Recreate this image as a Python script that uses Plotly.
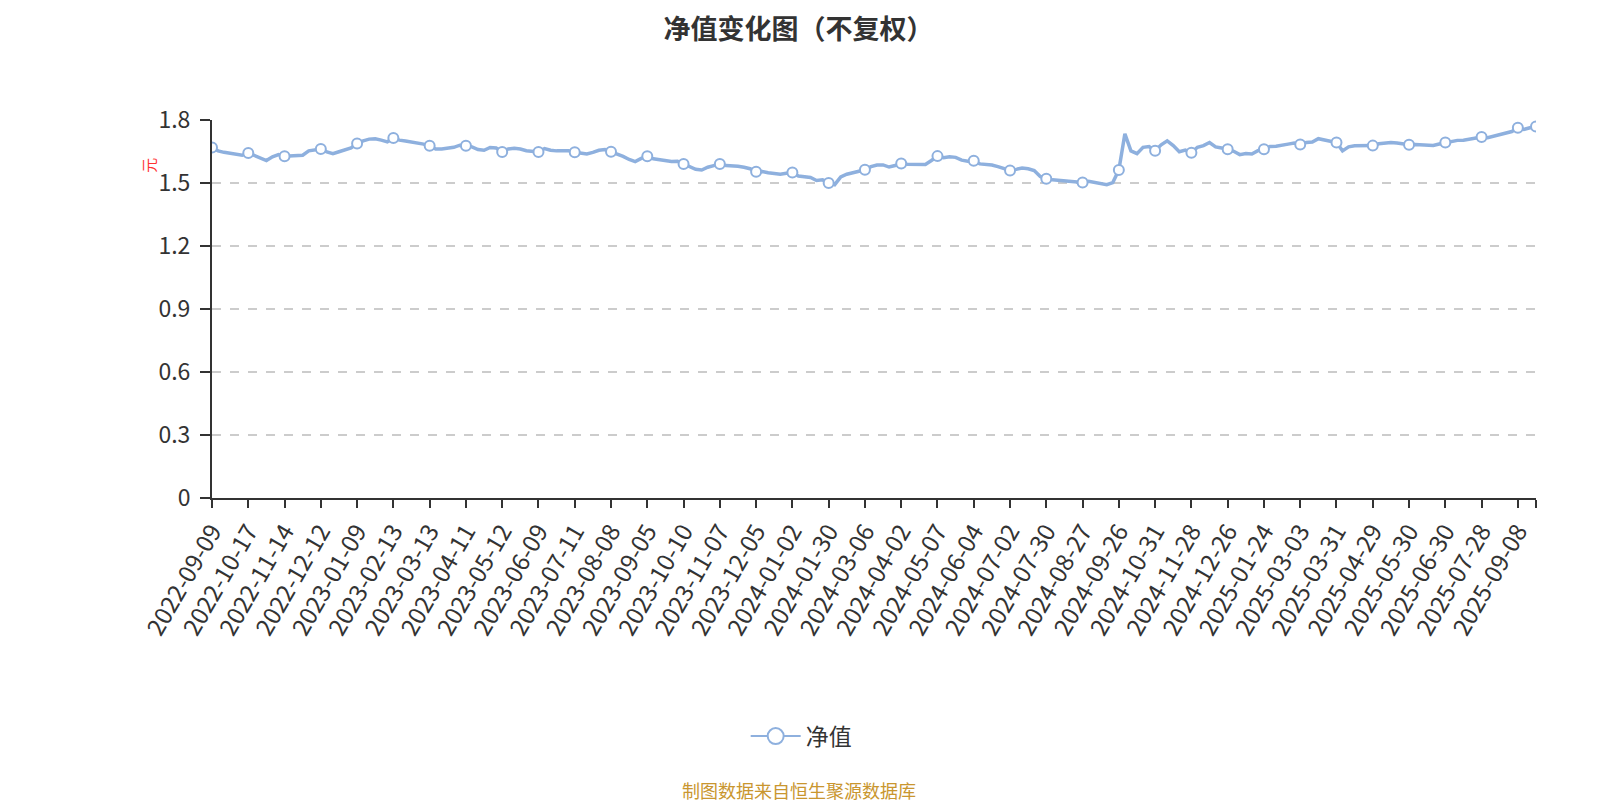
import plotly.graph_objects as go

# 单位净值（元），按日期读取；每行约一个横轴标签区间
NAV_2022 = [
    ("2022-09-09", 1.669), ("2022-09-15", 1.653), ("2022-09-21", 1.646), ("2022-09-27", 1.641),
    ("2022-10-10", 1.635), ("2022-10-13", 1.632),
    ("2022-10-17", 1.643), ("2022-10-21", 1.632), ("2022-10-26", 1.622), ("2022-10-31", 1.607),
    ("2022-11-03", 1.625), ("2022-11-09", 1.635),
    ("2022-11-14", 1.627), ("2022-11-17", 1.628), ("2022-11-22", 1.627), ("2022-11-25", 1.632),
    ("2022-11-30", 1.653), ("2022-12-06", 1.659),
    ("2022-12-12", 1.662), ("2022-12-15", 1.648), ("2022-12-20", 1.640), ("2022-12-23", 1.649),
    ("2022-12-28", 1.659),
]

NAV_2023 = [
    ("2023-01-04", 1.667),
    ("2023-01-09", 1.688), ("2023-01-12", 1.701), ("2023-01-17", 1.709), ("2023-01-31", 1.711),
    ("2023-02-03", 1.704), ("2023-02-08", 1.696),
    ("2023-02-13", 1.714), ("2023-02-16", 1.704), ("2023-02-21", 1.700), ("2023-02-24", 1.695),
    ("2023-03-01", 1.693), ("2023-03-07", 1.685),
    ("2023-03-13", 1.677), ("2023-03-16", 1.662), ("2023-03-21", 1.662), ("2023-03-24", 1.665),
    ("2023-03-29", 1.670), ("2023-04-04", 1.680),
    ("2023-04-11", 1.677), ("2023-04-14", 1.672), ("2023-04-19", 1.659), ("2023-04-24", 1.656),
    ("2023-04-27", 1.669), ("2023-05-08", 1.667),
    ("2023-05-12", 1.648), ("2023-05-17", 1.662), ("2023-05-22", 1.665), ("2023-05-25", 1.662),
    ("2023-05-31", 1.654), ("2023-06-05", 1.649),
    ("2023-06-09", 1.648), ("2023-06-14", 1.664), ("2023-06-19", 1.656), ("2023-06-27", 1.653),
    ("2023-06-30", 1.654), ("2023-07-06", 1.654),
    ("2023-07-11", 1.646), ("2023-07-14", 1.641), ("2023-07-19", 1.638), ("2023-07-24", 1.646),
    ("2023-07-27", 1.656), ("2023-08-02", 1.659),
    ("2023-08-08", 1.649), ("2023-08-11", 1.638), ("2023-08-16", 1.627), ("2023-08-21", 1.612),
    ("2023-08-24", 1.602), ("2023-08-30", 1.617),
    ("2023-09-05", 1.627), ("2023-09-08", 1.615), ("2023-09-13", 1.610), ("2023-09-18", 1.607),
    ("2023-09-21", 1.602), ("2023-09-27", 1.604),
    ("2023-10-10", 1.591), ("2023-10-13", 1.581), ("2023-10-18", 1.565), ("2023-10-23", 1.562),
    ("2023-10-26", 1.575), ("2023-11-01", 1.583),
    ("2023-11-07", 1.591), ("2023-11-10", 1.583), ("2023-11-15", 1.583), ("2023-11-20", 1.580),
    ("2023-11-23", 1.575), ("2023-11-29", 1.568),
    ("2023-12-05", 1.554), ("2023-12-08", 1.555), ("2023-12-13", 1.549), ("2023-12-18", 1.544),
    ("2023-12-21", 1.542), ("2023-12-27", 1.546),
]

NAV_2024 = [
    ("2024-01-02", 1.550), ("2024-01-05", 1.533), ("2024-01-10", 1.529), ("2024-01-15", 1.526),
    ("2024-01-18", 1.512), ("2024-01-24", 1.515),
    ("2024-01-30", 1.500), ("2024-02-02", 1.492), ("2024-02-07", 1.529), ("2024-02-21", 1.542),
    ("2024-02-26", 1.549), ("2024-02-29", 1.555),
    ("2024-03-06", 1.563), ("2024-03-11", 1.578), ("2024-03-14", 1.586), ("2024-03-19", 1.586),
    ("2024-03-22", 1.576), ("2024-03-27", 1.583),
    ("2024-04-02", 1.593), ("2024-04-08", 1.589), ("2024-04-11", 1.588), ("2024-04-16", 1.589),
    ("2024-04-19", 1.588), ("2024-04-25", 1.607),
    ("2024-05-07", 1.628), ("2024-05-10", 1.620), ("2024-05-15", 1.625), ("2024-05-20", 1.622),
    ("2024-05-23", 1.609), ("2024-05-29", 1.604),
    ("2024-06-04", 1.606), ("2024-06-07", 1.591), ("2024-06-13", 1.589), ("2024-06-18", 1.586),
    ("2024-06-21", 1.578), ("2024-06-26", 1.567),
    ("2024-07-02", 1.560), ("2024-07-05", 1.565), ("2024-07-10", 1.571), ("2024-07-15", 1.568),
    ("2024-07-18", 1.559), ("2024-07-24", 1.531),
    ("2024-07-30", 1.520), ("2024-08-02", 1.515), ("2024-08-07", 1.513), ("2024-08-12", 1.512),
    ("2024-08-15", 1.510), ("2024-08-21", 1.507),
    ("2024-08-27", 1.502), ("2024-08-30", 1.508), ("2024-09-04", 1.502), ("2024-09-09", 1.494),
    ("2024-09-12", 1.492), ("2024-09-19", 1.502),
    ("2024-09-26", 1.562), ("2024-10-08", 1.734), ("2024-10-11", 1.653), ("2024-10-16", 1.640),
    ("2024-10-21", 1.670), ("2024-10-25", 1.674),
    ("2024-10-31", 1.654), ("2024-11-05", 1.682), ("2024-11-08", 1.701), ("2024-11-13", 1.678),
    ("2024-11-18", 1.649), ("2024-11-22", 1.657),
    ("2024-11-28", 1.644), ("2024-12-03", 1.670), ("2024-12-06", 1.678), ("2024-12-11", 1.693),
    ("2024-12-16", 1.672), ("2024-12-20", 1.667),
    ("2024-12-26", 1.661), ("2024-12-31", 1.651),
]

NAV_2025 = [
    ("2025-01-06", 1.635), ("2025-01-09", 1.640), ("2025-01-14", 1.638), ("2025-01-17", 1.654),
    ("2025-01-24", 1.661), ("2025-02-05", 1.674), ("2025-02-10", 1.675), ("2025-02-14", 1.678),
    ("2025-02-19", 1.685), ("2025-02-25", 1.690),
    ("2025-03-03", 1.683), ("2025-03-06", 1.693), ("2025-03-11", 1.695), ("2025-03-14", 1.711),
    ("2025-03-19", 1.706), ("2025-03-25", 1.700),
    ("2025-03-31", 1.693), ("2025-04-03", 1.653), ("2025-04-09", 1.672), ("2025-04-14", 1.677),
    ("2025-04-17", 1.678), ("2025-04-23", 1.680),
    ("2025-04-29", 1.678), ("2025-05-07", 1.687), ("2025-05-12", 1.691), ("2025-05-15", 1.693),
    ("2025-05-20", 1.690), ("2025-05-26", 1.685),
    ("2025-05-30", 1.682), ("2025-06-05", 1.683), ("2025-06-10", 1.682), ("2025-06-13", 1.682),
    ("2025-06-18", 1.679), ("2025-06-24", 1.686),
    ("2025-06-30", 1.693), ("2025-07-03", 1.700), ("2025-07-08", 1.703), ("2025-07-11", 1.704),
    ("2025-07-16", 1.709), ("2025-07-22", 1.716),
    ("2025-07-28", 1.719), ("2025-08-04", 1.716), ("2025-08-11", 1.724), ("2025-08-18", 1.729),
    ("2025-08-25", 1.737), ("2025-09-01", 1.745),
    ("2025-09-08", 1.763), ("2025-09-11", 1.755), ("2025-09-16", 1.763), ("2025-09-19", 1.769),
]

# 横轴标签日期
TICK_DATES = [
    "2022-09-09", "2022-10-17", "2022-11-14", "2022-12-12", "2023-01-09", "2023-02-13",
    "2023-03-13", "2023-04-11", "2023-05-12", "2023-06-09", "2023-07-11", "2023-08-08",
    "2023-09-05", "2023-10-10", "2023-11-07", "2023-12-05", "2024-01-02", "2024-01-30",
    "2024-03-06", "2024-04-02", "2024-05-07", "2024-06-04", "2024-07-02", "2024-07-30",
    "2024-08-27", "2024-09-26", "2024-10-31", "2024-11-28", "2024-12-26", "2025-01-24",
    "2025-03-03", "2025-03-31", "2025-04-29", "2025-05-30", "2025-06-30", "2025-07-28",
    "2025-09-08",
]

Y_TICKS = [0, 0.3, 0.6, 0.9, 1.2, 1.5, 1.8]

LINE_COLOR = "#8EB0DE"
TEXT_COLOR = "#333333"
FONT = "Noto Sans CJK SC, Noto Sans, sans-serif"

pairs = NAV_2022 + NAV_2023 + NAV_2024 + NAV_2025
dates = [d for d, _ in pairs]
navs = [v for _, v in pairs]
nav_by_date = dict(pairs)

# 标签处与最后一天显示空心圆点
marker_dates = TICK_DATES + [dates[-1]]
marker_navs = [nav_by_date[d] for d in marker_dates]

fig = go.Figure()

fig.add_trace(
    go.Scatter(
        x=dates,
        y=navs,
        mode="lines",
        line={"color": LINE_COLOR, "width": 3.5},
        name="净值",
        showlegend=False,
        hovertemplate="%{x}<br>净值: %{y:.4f}<extra></extra>",
    )
)

fig.add_trace(
    go.Scatter(
        x=marker_dates,
        y=marker_navs,
        mode="markers",
        marker={
            "symbol": "circle",
            "size": 10,
            "color": "white",
            "line": {"color": LINE_COLOR, "width": 2},
        },
        name="净值",
        showlegend=False,
        hoverinfo="skip",
    )
)

# 图例用的空 trace
fig.add_trace(
    go.Scatter(
        x=[None],
        y=[None],
        mode="lines+markers",
        line={"color": LINE_COLOR, "width": 2},
        marker={"size": 22, "color": "white", "line": {"color": LINE_COLOR, "width": 2}},
        name="净值",
    )
)

fig.update_layout(
    width=1600,
    height=800,
    paper_bgcolor="white",
    plot_bgcolor="white",
    font={"family": FONT, "color": TEXT_COLOR, "size": 23},
    margin={"l": 204, "r": 72, "t": 112, "b": 310},
    title={
        "text": "净值变化图（不复权）",
        "x": 0.494,
        "xanchor": "center",
        "y": 0.985,
        "yanchor": "top",
        "yref": "container",
        "font": {"size": 27, "color": TEXT_COLOR, "family": FONT, "weight": "bold"},
    },
    showlegend=True,
    legend={
        "orientation": "h",
        "x": 0.445,
        "xanchor": "center",
        "y": -0.630,
        "yanchor": "middle",
        "itemwidth": 50,
        "font": {"size": 23, "color": TEXT_COLOR},
        "bgcolor": "rgba(0,0,0,0)",
    },
    xaxis={
        "type": "category",
        "categoryorder": "array",
        "categoryarray": dates,
        "range": [0, len(dates) - 1],
        "tickmode": "array",
        "tickvals": TICK_DATES + [dates[-1]],
        "ticktext": TICK_DATES + [""],
        "tickangle": -60,
        "ticks": "outside",
        "ticklen": 8,
        "tickwidth": 2,
        "tickcolor": TEXT_COLOR,
        "showline": True,
        "linecolor": TEXT_COLOR,
        "linewidth": 2,
        "showgrid": False,
        "zeroline": False,
        "tickfont": {"size": 24, "color": TEXT_COLOR},
    },
    yaxis={
        "range": [0, 1.8],
        "tickmode": "array",
        "tickvals": Y_TICKS,
        "ticktext": [f"{v:g}" for v in Y_TICKS],
        "ticks": "outside",
        "ticklen": 10,
        "tickwidth": 2,
        "tickcolor": TEXT_COLOR,
        "ticklabelstandoff": 5,
        "showline": True,
        "linecolor": TEXT_COLOR,
        "linewidth": 2,
        "showgrid": True,
        "gridcolor": "#CCCCCC",
        "gridwidth": 1.5,
        "griddash": "dash",
        "zeroline": False,
        "tickfont": {"size": 23, "color": TEXT_COLOR},
    },
    annotations=[
        {
            "text": "元",
            "xref": "paper",
            "yref": "paper",
            "x": -0.048,
            "y": 0.880,
            "xanchor": "center",
            "yanchor": "middle",
            "showarrow": False,
            "textangle": -90,
            "font": {"size": 15, "color": "#FF3333"},
        },
        {
            "text": "制图数据来自恒生聚源数据库",
            "xref": "paper",
            "yref": "paper",
            "x": 0.443,
            "y": -0.772,
            "xanchor": "center",
            "yanchor": "middle",
            "showarrow": False,
            "font": {"size": 18, "color": "#C9962F"},
        },
    ],
)

fig.write_html("out.html")
